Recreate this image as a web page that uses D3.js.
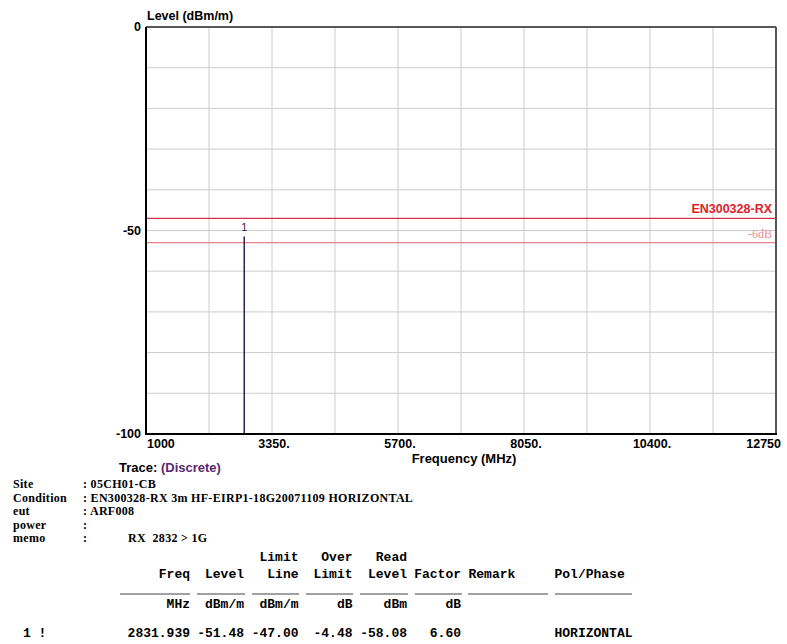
<!DOCTYPE html>
<html>
<head>
<meta charset="utf-8">
<script src="https://cdn.jsdelivr.net/npm/d3@7"></script>
<style>
  body { margin: 0; background: #fff; }
  svg { display: block; }
  .sans { font-family: "Liberation Sans", Arial, sans-serif; font-weight: bold; }
  .serif { font-family: "Liberation Serif", "Times New Roman", serif; font-weight: bold; font-size: 12px; letter-spacing: 0.3px; }
  .mono { font-family: "Liberation Mono", "Courier New", monospace; font-weight: bold; font-size: 13px; }
</style>
</head>
<body>
<script>
// chart values
const xTicks = [1000, 3350, 5700, 8050, 10400, 12750];
const xTickLabels = ['1000', '3350.', '5700.', '8050.', '10400.', '12750'];
const yTicks = [0, -50, -100];
const limitNames = ['EN300328-RX', '-6dB'];
const limitValues = [-47, -53];
const peakIds = ['1'];
const peakFreqs = [2831.939];
const peakLevels = [-51.48];

// header info block
const infoKeys = ['Site', 'Condition', 'eut', 'power', 'memo'];
const infoValues = [': 05CH01-CB', ': EN300328-RX 3m HF-EIRP1-18G20071109 HORIZONTAL', ': ARF008', ':', ':'];
const memoText = 'RX  2832 > 1G';

// result table
const headTop = ['', '', 'Limit', 'Over', 'Read', '', '', ''];
const headMain = ['Freq', 'Level', 'Line', 'Limit', 'Level', 'Factor', 'Remark', 'Pol/Phase'];
const headUnits = ['MHz', 'dBm/m', 'dBm/m', 'dB', 'dBm', 'dB', '', ''];
const rowIds = ['1 !'];
const rowValues = [['2831.939', '-51.48', '-47.00', '-4.48', '-58.08', '6.60', '', 'HORIZONTAL']];

const W = 787, H = 644;
const PLOT = { left: 146, right: 776, top: 27, bottom: 434 };

const x = d3.scaleLinear().domain([1000, 12750]).range([PLOT.left, PLOT.right]);
const y = d3.scaleLinear().domain([0, -100]).range([PLOT.top, PLOT.bottom]);

const svg = d3.select('body').append('svg')
  .attr('width', W)
  .attr('height', H);

// grid
const grid = svg.append('g').attr('class', 'grid');
grid.selectAll('line.v')
  .data(d3.range(1, 10).map(i => 1000 + i * 1175))
  .enter().append('line')
  .attr('x1', d => x(d)).attr('x2', d => x(d))
  .attr('y1', PLOT.top).attr('y2', PLOT.bottom)
  .attr('stroke', '#cccccc').attr('stroke-width', 1);
grid.selectAll('line.h')
  .data(d3.range(-10, -100, -10))
  .enter().append('line')
  .attr('x1', PLOT.left).attr('x2', PLOT.right)
  .attr('y1', d => y(d)).attr('y2', d => y(d))
  .attr('stroke', '#cccccc').attr('stroke-width', 1);

// limit lines
const limitColors = ['#d8304a', '#e8808c'];
const limits = svg.append('g').attr('class', 'limits');
limitValues.forEach((v, i) => {
  limits.append('line')
    .attr('x1', PLOT.left).attr('x2', PLOT.right)
    .attr('y1', y(v)).attr('y2', y(v))
    .attr('stroke', limitColors[i]).attr('stroke-width', 1.3);
  limits.append('text')
    .attr('x', PLOT.right - 4)
    .attr('y', y(v) - 5)
    .attr('text-anchor', 'end')
    .style('font-family', i === 0 ? '"Liberation Sans", Arial, sans-serif' : '"Liberation Serif", "Times New Roman", serif')
    .style('font-size', i === 0 ? '12.5px' : '12px')
    .style('font-weight', i === 0 ? 'bold' : 'normal')
    .attr('fill', i === 0 ? '#e0202c' : '#ec8c98')
    .text(limitNames[i]);
});

// peak markers
const peaks = svg.append('g').attr('class', 'peaks');
peakFreqs.forEach((f, i) => {
  peaks.append('line')
    .attr('x1', x(f)).attr('x2', x(f))
    .attr('y1', y(peakLevels[i])).attr('y2', PLOT.bottom)
    .attr('stroke', '#2a1040').attr('stroke-width', 1.4);
  peaks.append('text')
    .attr('x', x(f)).attr('y', y(peakLevels[i]) - 6)
    .attr('text-anchor', 'middle')
    .attr('font-family', '"Liberation Sans", Arial, sans-serif')
    .attr('font-size', 11)
    .attr('fill', '#3a1850')
    .text(peakIds[i]);
});

// frame
svg.append('line').attr('x1', PLOT.left).attr('x2', PLOT.right).attr('y1', PLOT.top).attr('y2', PLOT.top)
  .attr('stroke', '#222').attr('stroke-width', 1.5);
svg.append('line').attr('x1', PLOT.right).attr('x2', PLOT.right).attr('y1', PLOT.top).attr('y2', PLOT.bottom)
  .attr('stroke', '#555').attr('stroke-width', 2);
svg.append('line').attr('x1', PLOT.left).attr('x2', PLOT.left).attr('y1', PLOT.top).attr('y2', PLOT.bottom + 1)
  .attr('stroke', '#000').attr('stroke-width', 2);
svg.append('line').attr('x1', PLOT.left).attr('x2', PLOT.right + 1).attr('y1', PLOT.bottom).attr('y2', PLOT.bottom)
  .attr('stroke', '#000').attr('stroke-width', 2);

// y tick labels
svg.append('g').selectAll('text')
  .data(yTicks)
  .enter().append('text')
  .attr('class', 'sans')
  .attr('x', PLOT.left - 5)
  .attr('y', d => y(d) + 4)
  .attr('text-anchor', 'end')
  .attr('font-size', 12.5)
  .text(d => d);

// x tick labels
svg.append('g').selectAll('text')
  .data(xTicks)
  .enter().append('text')
  .attr('class', 'sans')
  .attr('x', (d, i) => i === 0 ? x(d) + 1 : i === xTicks.length - 1 ? x(d) + 5 : x(d) + 2)
  .attr('y', PLOT.bottom + 14)
  .attr('text-anchor', (d, i) => i === 0 ? 'start' : i === xTicks.length - 1 ? 'end' : 'middle')
  .attr('font-size', 12.5)
  .text((d, i) => xTickLabels[i]);

// axis titles
svg.append('text').attr('class', 'sans')
  .attr('x', PLOT.left + 1).attr('y', 20)
  .attr('font-size', 12.5)
  .text('Level (dBm/m)');
svg.append('text').attr('class', 'sans')
  .attr('x', 464).attr('y', 463)
  .attr('text-anchor', 'middle')
  .attr('font-size', 13)
  .text('Frequency (MHz)');

const trace = svg.append('text').attr('class', 'sans')
  .attr('x', 119).attr('y', 472)
  .attr('font-size', 13);
trace.append('tspan').attr('fill', '#000').text('Trace: ');
trace.append('tspan').attr('fill', '#5a2870').text('(Discrete)');

// info block
const info = svg.append('g').attr('class', 'serif');
const infoY = [488, 501.5, 515, 528.5, 542];
infoKeys.forEach((k, i) => {
  info.append('text').attr('x', 13).attr('y', infoY[i]).text(k);
  info.append('text').attr('x', 83).attr('y', infoY[i]).text(infoValues[i]);
});
info.append('text').attr('x', 128).attr('y', infoY[4]).style('white-space', 'pre').text(memoText);

// table
const colRight = [190, 244, 298.5, 352.5, 407, 461];
const colLeft = [468.5, 554.5];
const lineSeg = [[120, 190], [197, 245], [252, 299], [306, 353], [360, 408], [415, 462], [468, 548], [555, 632]];
const table = svg.append('g').attr('class', 'mono');

function tableRow(cells, yPos) {
  cells.forEach((c, i) => {
    if (!c) return;
    const t = table.append('text').attr('y', yPos).style('white-space', 'pre').text(c);
    if (i < 6) t.attr('x', colRight[i]).attr('text-anchor', 'end');
    else t.attr('x', colLeft[i - 6]);
  });
}
tableRow(headTop, 561);
tableRow(headMain, 578);
table.selectAll('line')
  .data(lineSeg)
  .enter().append('line')
  .attr('x1', d => d[0]).attr('x2', d => d[1])
  .attr('y1', 594).attr('y2', 594)
  .attr('stroke', '#444').attr('stroke-width', 1.2);
tableRow(headUnits, 608);
rowValues.forEach((r, i) => {
  table.append('text').attr('x', 23).attr('y', 637).style('white-space', 'pre').text(rowIds[i]);
  tableRow(r, 637);
});
</script>
</body>
</html>
